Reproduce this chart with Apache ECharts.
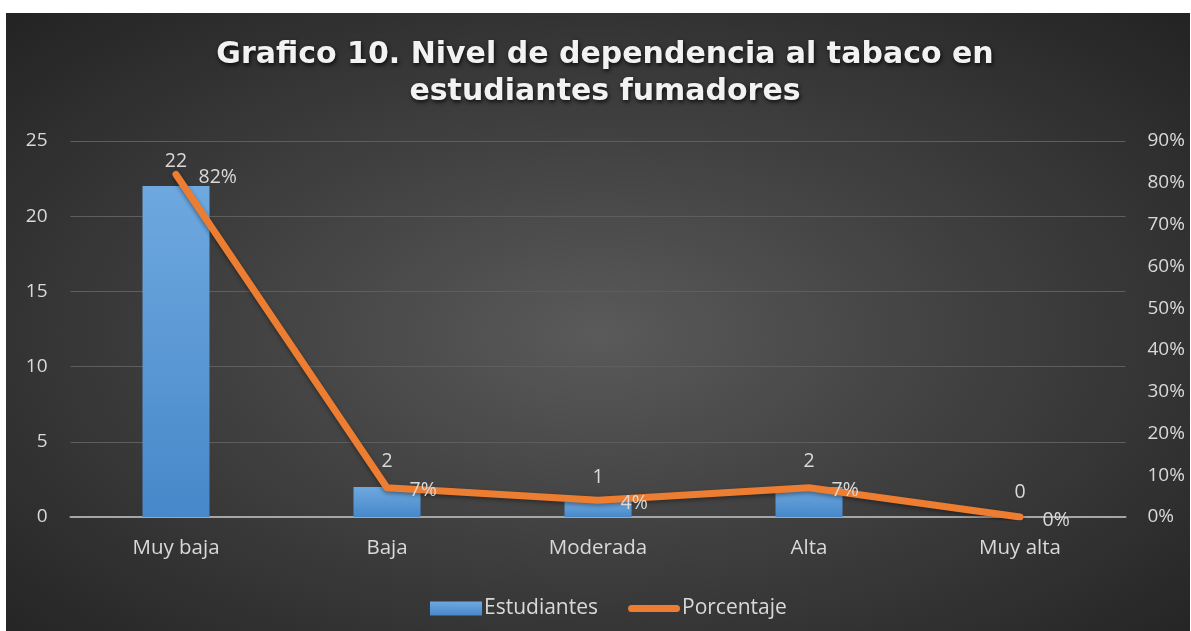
<!DOCTYPE html>
<html>
<head>
<meta charset="utf-8">
<script src="https://cdn.jsdelivr.net/npm/echarts@6/dist/echarts.min.js"></script>
<style>
	html, body { margin: 0; padding: 0; background: #ffffff; }
	#chart {
		position: absolute;
		left: 6px;
		top: 13px;
		width: 1184px;
		height: 618px;
		background: radial-gradient(ellipse farthest-corner at 50% 52%, #5a5a5a 0%, #434343 40%, #232323 100%);
	}
</style>
</head>
<body>
<div id="chart"></div>
<script>
	// datos del grafico
	var categorias = ['Muy baja', 'Baja', 'Moderada', 'Alta', 'Muy alta'];
	var estudiantes = [22, 2, 1, 2, 0];
	var porcentaje = [0.82, 0.07, 0.04, 0.07, 0];
	var ticksIzq = [0, 5, 10, 15, 20, 25];
	var ticksDer = [0, 0.1, 0.2, 0.3, 0.4, 0.5, 0.6, 0.7, 0.8, 0.9];

	var fuente = 'Open Sans';
	var colorTexto = '#d9d9d9';

	var chart = echarts.init(document.getElementById('chart'));
	var option = {
		backgroundColor: 'transparent',
		title: {
			text: 'Grafico 10. Nivel de dependencia al tabaco en\nestudiantes fumadores',
			left: 594,
			top: 19,
			textAlign: 'center',
			textStyle: {
				color: '#f2f2f2',
				fontFamily: 'DejaVu Sans',
				fontWeight: 'bold',
				fontSize: 30,
				lineHeight: 37,
				textShadowColor: 'rgba(0,0,0,0.8)',
				textShadowBlur: 4,
				textShadowOffsetX: 1,
				textShadowOffsetY: 2
			}
		},
		grid: {
			left: 64.5,
			right: 64.5,
			top: 128,
			bottom: 114
		},
		legend: {
			left: 419,
			top: 580,
			itemWidth: 52,
			itemHeight: 14,
			itemGap: 30,
			textStyle: {
				color: colorTexto,
				fontFamily: fuente,
				fontSize: 21,
				padding: [0, 0, 0, -3]
			},
			data: [
				{ name: 'Estudiantes', icon: 'rect' },
				{ name: 'Porcentaje', icon: 'path://M0,0L0,0M0,14L0,14M3.5,3.5L48.5,3.5A3.5,3.5,0,0,1,48.5,10.5L3.5,10.5A3.5,3.5,0,0,1,3.5,3.5Z' }
			]
		},
		xAxis: {
			type: 'category',
			data: categorias,
			axisTick: { show: false },
			axisLine: { lineStyle: { color: '#a6a6a6', width: 2 } },
			axisLabel: {
				color: colorTexto,
				fontFamily: fuente,
				fontSize: 20.5,
				margin: 21
			}
		},
		yAxis: [{
			type: 'value',
			min: ticksIzq[0],
			max: ticksIzq[ticksIzq.length - 1],
			interval: 5,
			axisLine: { show: false },
			axisTick: { show: false },
			splitLine: { lineStyle: { color: '#5e5e5e', width: 1 } },
			axisLabel: {
				color: colorTexto,
				fontFamily: fuente,
				fontSize: 19,
				margin: 23
			}
		}, {
			type: 'value',
			min: ticksDer[0],
			max: ticksDer[ticksDer.length - 1],
			interval: 0.1,
			axisLine: { show: false },
			axisTick: { show: false },
			splitLine: { show: false },
			axisLabel: {
				color: colorTexto,
				fontFamily: fuente,
				fontSize: 19,
				margin: 22,
				formatter: function(v) {
					return Math.round(v * 100) + '%';
				}
			}
		}],
		series: [{
			name: 'Estudiantes',
			type: 'bar',
			data: estudiantes,
			barWidth: 67,
			itemStyle: {
				color: new echarts.graphic.LinearGradient(0, 0, 0, 1, [
					{ offset: 0, color: '#6ea8df' },
					{ offset: 1, color: '#4788ca' }
				])
			},
			label: {
				show: true,
				position: 'top',
				distance: 15,
				color: colorTexto,
				fontFamily: fuente,
				fontSize: 19.5
			},
			z: 2
		}, {
			name: 'Porcentaje',
			type: 'line',
			yAxisIndex: 1,
			data: porcentaje,
			symbol: 'circle',
			symbolSize: 1,
			showSymbol: true,
			lineStyle: {
				color: '#ed7d31',
				width: 7,
				cap: 'round',
				join: 'round',
				shadowColor: 'rgba(0,0,0,0.4)',
				shadowBlur: 4,
				shadowOffsetY: 2
			},
			itemStyle: { color: '#ed7d31' },
			label: {
				show: true,
				position: 'right',
				distance: 22,
				offset: [0, 3],
				color: colorTexto,
				fontFamily: fuente,
				fontSize: 19.5,
				formatter: function(p) {
					return Math.round(p.value * 100) + '%';
				}
			},
			z: 3
		}]
	};
	chart.setOption(option);
</script>
</body>
</html>
